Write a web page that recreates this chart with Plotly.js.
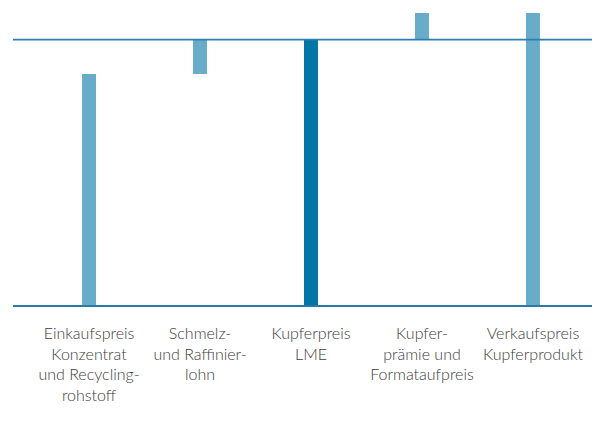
<!DOCTYPE html>
<html>
<head>
<meta charset="utf-8">
<script src="https://cdn.plot.ly/plotly-3.0.1.min.js"></script>
<style>html,body{margin:0;padding:0;background:#fff;}#chart{width:599px;height:435px;}</style>
</head>
<body>
<div id="chart"></div>
<script>
const categories = [
  "Einkaufspreis<br>Konzentrat<br>und Recycling-<br>rohstoff",
  "Schmelz-<br>und Raffinier-<br>lohn",
  "Kupferpreis<br>LME",
  "Kupfer-<br>prämie und<br>Formataufpreis",
  "Verkaufspreis<br>Kupferprodukt"
];
const barBase = [0, 87, 0, 100, 0];
const barHeight = [87, 13, 100, 10, 110];
const barColors = ["#68acca", "#68acca", "#0076a6", "#68acca", "#68acca"];
const referenceLevel = 100;

const trace = {
  type: "bar",
  x: categories,
  y: barHeight,
  base: barBase,
  width: 0.126,
  marker: {color: barColors, line: {width: 0}},
  hoverinfo: "skip"
};

const layout = {
  width: 599, height: 435,
  margin: {l: 13, r: 7, t: 13, b: 130},
  paper_bgcolor: "#ffffff", plot_bgcolor: "#ffffff",
  showlegend: false,
  xaxis: {
    type: "category",
    range: [-0.685, 4.532],
    showgrid: false, zeroline: false,
    showline: true, linecolor: "#2a7aa8", linewidth: 1.5,
    ticks: "", ticklabelstandoff: 13,
    tickfont: {family: "Lato, sans-serif", size: 16, color: "#3c3c3c", weight: 300}
  },
  yaxis: {
    range: [0, 110],
    showgrid: false, zeroline: false, showline: false,
    showticklabels: false, ticks: ""
  },
  shapes: [{
    type: "line", xref: "paper", x0: 0, x1: 1,
    yref: "y", y0: referenceLevel, y1: referenceLevel,
    line: {color: "#2b80b3", width: 1.8},
    layer: "above"
  }]
};

Plotly.newPlot("chart", [trace], layout, {staticPlot: true, displayModeBar: false});
</script>
</body>
</html>
